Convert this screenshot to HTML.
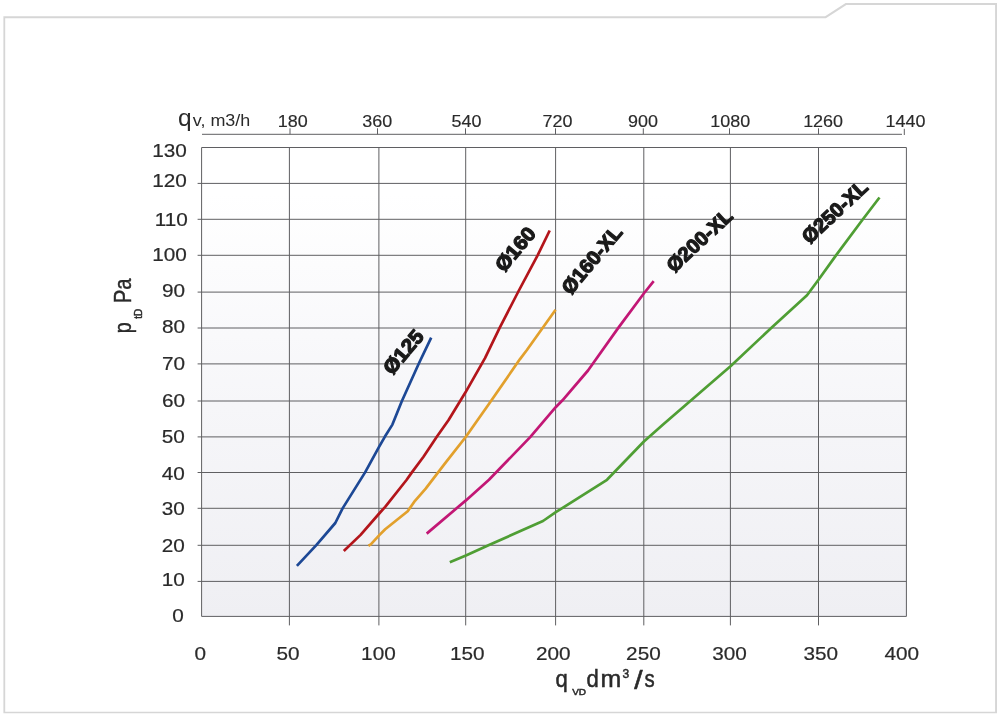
<!DOCTYPE html>
<html><head><meta charset="utf-8"><title>Chart</title>
<style>html,body{margin:0;padding:0;background:#fff;}body{width:1000px;height:717px;overflow:hidden;}svg{display:block;will-change:transform;}text{font-family:"Liberation Sans",sans-serif;}</style>
</head><body>
<svg width="1000" height="717" viewBox="0 0 1000 717">
<defs><linearGradient id="bg" x1="0" y1="0" x2="0" y2="1"><stop offset="0" stop-color="#ffffff"/><stop offset="0.1" stop-color="#ffffff"/><stop offset="0.55" stop-color="#f6f6f9"/><stop offset="1" stop-color="#efeff3"/></linearGradient></defs>
<rect width="1000" height="717" fill="#ffffff"/>
<path fill-rule="evenodd" fill="#d6d6d6" d="M3.4 16.3 L825.1 16.3 L845.6 3.1 L997 3.1 L997 713.3 L3.4 713.3 Z M5.2 18.3 L825.9 18.3 L846.4 5.0 L995.1 5.0 L995.1 711.8 L5.2 711.8 Z"/>
<rect x="201.6" y="147.5" width="704.8" height="468.9" fill="url(#bg)"/>
<g stroke="#5f5f62" stroke-width="1" fill="none">
<line x1="201.6" y1="147.5" x2="906.4" y2="147.5"/>
<line x1="197.6" y1="183.4" x2="906.4" y2="183.4"/>
<line x1="197.6" y1="219.3" x2="906.4" y2="219.3"/>
<line x1="197.6" y1="255.3" x2="906.4" y2="255.3"/>
<line x1="197.6" y1="292.1" x2="906.4" y2="292.1"/>
<line x1="197.6" y1="328.0" x2="906.4" y2="328.0"/>
<line x1="197.6" y1="363.9" x2="906.4" y2="363.9"/>
<line x1="197.6" y1="401.0" x2="906.4" y2="401.0"/>
<line x1="197.6" y1="436.9" x2="906.4" y2="436.9"/>
<line x1="197.6" y1="472.5" x2="906.4" y2="472.5"/>
<line x1="197.6" y1="508.3" x2="906.4" y2="508.3"/>
<line x1="197.6" y1="545.3" x2="906.4" y2="545.3"/>
<line x1="197.6" y1="581.4" x2="906.4" y2="581.4"/>
<line x1="201.6" y1="616.4" x2="906.4" y2="616.4"/>
<line x1="201.6" y1="147.5" x2="201.6" y2="616.4"/>
<line x1="289.4" y1="147.5" x2="289.4" y2="625.4"/>
<line x1="378.9" y1="147.5" x2="378.9" y2="625.4"/>
<line x1="465.7" y1="147.5" x2="465.7" y2="625.4"/>
<line x1="555.6" y1="147.5" x2="555.6" y2="625.4"/>
<line x1="643.8" y1="147.5" x2="643.8" y2="625.4"/>
<line x1="730.4" y1="147.5" x2="730.4" y2="625.4"/>
<line x1="818.5" y1="147.5" x2="818.5" y2="625.4"/>
<line x1="906.4" y1="147.5" x2="906.4" y2="616.4"/>
<line x1="202" y1="134.3" x2="902" y2="134.3"/>
<line x1="290" y1="128.3" x2="290" y2="134.3"/>
<line x1="377.5" y1="128.3" x2="377.5" y2="134.3"/>
<line x1="465.5" y1="128.3" x2="465.5" y2="134.3"/>
<line x1="555.5" y1="128.3" x2="555.5" y2="134.3"/>
<line x1="643.3" y1="128.3" x2="643.3" y2="134.3"/>
<line x1="729.5" y1="128.3" x2="729.5" y2="134.3"/>
<line x1="818.5" y1="128.3" x2="818.5" y2="134.3"/>
<line x1="904.3" y1="128.8" x2="904.3" y2="135"/>
</g>
<polyline points="296.9,565.8 316.3,545.1 335.3,523.0 342.6,508.4 365.1,472.4 378.9,447.2 384.8,436.8 392.4,424.6 401.8,401.2 418.6,364.0 431.2,337.6" fill="none" stroke="#1d4895" stroke-width="2.7" stroke-linejoin="round" stroke-linecap="butt"/>
<polyline points="343.8,551.0 360.6,534.9 379.2,513.5 385.2,506.8 406.5,480.0 411.7,472.6 423.5,456.8 436.8,436.8 448.6,420.0 465.5,392.3 485.0,358.1 499.5,328.2 518.1,292.0 537.6,255.3 549.7,230.5" fill="none" stroke="#b3151b" stroke-width="2.7" stroke-linejoin="round" stroke-linecap="butt"/>
<polyline points="368.4,545.7 370.8,544.4 379.1,535.4 385.2,529.3 407.7,511.2 415.0,500.8 425.7,488.6 445.0,463.4 465.7,437.0 488.9,404.0 520.0,359.1 526.9,350.0 555.6,309.8" fill="none" stroke="#e2a02c" stroke-width="2.7" stroke-linejoin="round" stroke-linecap="butt"/>
<polyline points="426.7,533.6 465.9,500.4 489.0,479.8 530.4,436.9 555.7,407.2 562.5,400.3 588.0,370.5 618.1,328.1 643.8,293.5 653.7,281.2" fill="none" stroke="#c21775" stroke-width="2.7" stroke-linejoin="round" stroke-linecap="butt"/>
<polyline points="449.8,562.3 465.9,555.6 489.0,545.0 543.0,521.0 555.8,512.2 607.0,479.8 643.9,441.5 662.8,424.8 730.5,366.2 771.2,328.0 807.0,295.3 818.5,279.8 836.0,255.4 862.7,219.5 879.5,197.5" fill="none" stroke="#4f9e34" stroke-width="2.7" stroke-linejoin="round" stroke-linecap="butt"/>
<text transform="translate(403.0,351.7) rotate(-50)" x="0" y="7.2" text-anchor="middle" font-size="20" font-weight="bold" fill="#1a1a1a" stroke="#1a1a1a" stroke-width="1.25" stroke-linejoin="round" textLength="51" lengthAdjust="spacingAndGlyphs">Ø125</text>
<text transform="translate(515.0,248.9) rotate(-50)" x="0" y="7.2" text-anchor="middle" font-size="20" font-weight="bold" fill="#1a1a1a" stroke="#1a1a1a" stroke-width="1.25" stroke-linejoin="round" textLength="51" lengthAdjust="spacingAndGlyphs">Ø160</text>
<text transform="translate(591.5,259.6) rotate(-50)" x="0" y="7.2" text-anchor="middle" font-size="20" font-weight="bold" fill="#1a1a1a" stroke="#1a1a1a" stroke-width="1.25" stroke-linejoin="round" textLength="82" lengthAdjust="spacingAndGlyphs">Ø160-XL</text>
<text transform="translate(699.2,240.2) rotate(-43)" x="0" y="7.2" text-anchor="middle" font-size="20" font-weight="bold" fill="#1a1a1a" stroke="#1a1a1a" stroke-width="1.25" stroke-linejoin="round" textLength="82" lengthAdjust="spacingAndGlyphs">Ø200-XL</text>
<text transform="translate(834.5,211.6) rotate(-43)" x="0" y="7.2" text-anchor="middle" font-size="20" font-weight="bold" fill="#1a1a1a" stroke="#1a1a1a" stroke-width="1.25" stroke-linejoin="round" textLength="82" lengthAdjust="spacingAndGlyphs">Ø250-XL</text>
<text transform="translate(186.9,156.6) scale(1.14,1)" text-anchor="end" font-size="18.2" fill="#2a2a2a" stroke="#2a2a2a" stroke-width="0.2">130</text>
<text transform="translate(186.9,187.4) scale(1.14,1)" text-anchor="end" font-size="18.2" fill="#2a2a2a" stroke="#2a2a2a" stroke-width="0.2">120</text>
<text transform="translate(187.8,225.8) scale(1.14,1)" text-anchor="end" font-size="18.2" fill="#2a2a2a" stroke="#2a2a2a" stroke-width="0.2">110</text>
<text transform="translate(186.9,261.0) scale(1.14,1)" text-anchor="end" font-size="18.2" fill="#2a2a2a" stroke="#2a2a2a" stroke-width="0.2">100</text>
<text transform="translate(185.0,296.8) scale(1.14,1)" text-anchor="end" font-size="18.2" fill="#2a2a2a" stroke="#2a2a2a" stroke-width="0.2">90</text>
<text transform="translate(185.0,333.3) scale(1.14,1)" text-anchor="end" font-size="18.2" fill="#2a2a2a" stroke="#2a2a2a" stroke-width="0.2">80</text>
<text transform="translate(185.0,370.2) scale(1.14,1)" text-anchor="end" font-size="18.2" fill="#2a2a2a" stroke="#2a2a2a" stroke-width="0.2">70</text>
<text transform="translate(185.0,406.5) scale(1.14,1)" text-anchor="end" font-size="18.2" fill="#2a2a2a" stroke="#2a2a2a" stroke-width="0.2">60</text>
<text transform="translate(184.9,442.7) scale(1.14,1)" text-anchor="end" font-size="18.2" fill="#2a2a2a" stroke="#2a2a2a" stroke-width="0.2">50</text>
<text transform="translate(184.9,480.3) scale(1.14,1)" text-anchor="end" font-size="18.2" fill="#2a2a2a" stroke="#2a2a2a" stroke-width="0.2">40</text>
<text transform="translate(184.9,514.5) scale(1.14,1)" text-anchor="end" font-size="18.2" fill="#2a2a2a" stroke="#2a2a2a" stroke-width="0.2">30</text>
<text transform="translate(184.9,551.6) scale(1.14,1)" text-anchor="end" font-size="18.2" fill="#2a2a2a" stroke="#2a2a2a" stroke-width="0.2">20</text>
<text transform="translate(184.9,586.1) scale(1.14,1)" text-anchor="end" font-size="18.2" fill="#2a2a2a" stroke="#2a2a2a" stroke-width="0.2">10</text>
<text transform="translate(183.7,621.7) scale(1.14,1)" text-anchor="end" font-size="18.2" fill="#2a2a2a" stroke="#2a2a2a" stroke-width="0.2">0</text>
<text transform="translate(200.2,659.6) scale(1.14,1)" text-anchor="middle" font-size="18.2" fill="#2a2a2a" stroke="#2a2a2a" stroke-width="0.2">0</text>
<text transform="translate(288.0,659.6) scale(1.14,1)" text-anchor="middle" font-size="18.2" fill="#2a2a2a" stroke="#2a2a2a" stroke-width="0.2">50</text>
<text transform="translate(378.4,659.6) scale(1.14,1)" text-anchor="middle" font-size="18.2" fill="#2a2a2a" stroke="#2a2a2a" stroke-width="0.2">100</text>
<text transform="translate(467.2,659.6) scale(1.14,1)" text-anchor="middle" font-size="18.2" fill="#2a2a2a" stroke="#2a2a2a" stroke-width="0.2">150</text>
<text transform="translate(553.3,659.6) scale(1.14,1)" text-anchor="middle" font-size="18.2" fill="#2a2a2a" stroke="#2a2a2a" stroke-width="0.2">200</text>
<text transform="translate(643.4,659.6) scale(1.14,1)" text-anchor="middle" font-size="18.2" fill="#2a2a2a" stroke="#2a2a2a" stroke-width="0.2">250</text>
<text transform="translate(729.6,659.6) scale(1.14,1)" text-anchor="middle" font-size="18.2" fill="#2a2a2a" stroke="#2a2a2a" stroke-width="0.2">300</text>
<text transform="translate(820.7,659.6) scale(1.14,1)" text-anchor="middle" font-size="18.2" fill="#2a2a2a" stroke="#2a2a2a" stroke-width="0.2">350</text>
<text transform="translate(901.8,659.6) scale(1.14,1)" text-anchor="middle" font-size="18.2" fill="#2a2a2a" stroke="#2a2a2a" stroke-width="0.2">400</text>
<text transform="translate(292.8,126.5) scale(1.13,1)" text-anchor="middle" font-size="15.9" fill="#2a2a2a" stroke="#2a2a2a" stroke-width="0.15">180</text>
<text transform="translate(377.2,126.5) scale(1.13,1)" text-anchor="middle" font-size="15.9" fill="#2a2a2a" stroke="#2a2a2a" stroke-width="0.15">360</text>
<text transform="translate(466.4,126.5) scale(1.13,1)" text-anchor="middle" font-size="15.9" fill="#2a2a2a" stroke="#2a2a2a" stroke-width="0.15">540</text>
<text transform="translate(557.5,126.5) scale(1.13,1)" text-anchor="middle" font-size="15.9" fill="#2a2a2a" stroke="#2a2a2a" stroke-width="0.15">720</text>
<text transform="translate(642.9,126.5) scale(1.13,1)" text-anchor="middle" font-size="15.9" fill="#2a2a2a" stroke="#2a2a2a" stroke-width="0.15">900</text>
<text transform="translate(730.2,126.5) scale(1.13,1)" text-anchor="middle" font-size="15.9" fill="#2a2a2a" stroke="#2a2a2a" stroke-width="0.15">1080</text>
<text transform="translate(823.1,126.5) scale(1.13,1)" text-anchor="middle" font-size="15.9" fill="#2a2a2a" stroke="#2a2a2a" stroke-width="0.15">1260</text>
<text transform="translate(905.4,126.5) scale(1.13,1)" text-anchor="middle" font-size="15.9" fill="#2a2a2a" stroke="#2a2a2a" stroke-width="0.15">1440</text>
<text x="177.9" y="126.4" font-size="24.5" fill="#2a2a2a">q</text>
<text transform="translate(192.8,126.4) scale(1.15,1)" font-size="15.6" fill="#2a2a2a">v, m3/h</text>
<g transform="translate(131.2,333.3) rotate(-90)" fill="#2a2a2a" stroke="#2a2a2a" stroke-width="0.45">
<text transform="scale(0.86,1)" x="0" y="0" font-size="23">p</text>
<text x="14.6" y="10.6" font-size="10">tD</text>
<text transform="translate(30.0,0) scale(0.88,1)" x="0" y="0" font-size="23">Pa</text>
</g>
<g fill="#2a2a2a" stroke="#2a2a2a" stroke-width="0.5">
<text transform="translate(555.4,686.6) scale(0.92,1)" font-size="24">q</text>
<text transform="translate(572.2,694.6) scale(1.22,1)" font-size="8.2" stroke="#2a2a2a" stroke-width="0.45">VD</text>
<text transform="translate(586.6,686.6) scale(0.92,1)" font-size="24">d</text>
<text transform="translate(600.6,686.6) scale(1.04,1)" font-size="24">m</text>
<text x="622.4" y="677.5" font-size="12">3</text>
<text transform="translate(634.2,688.8) scale(1.3,1.12)" font-size="23">/</text>
<text transform="translate(644.6,686.6) scale(0.85,1)" font-size="24">s</text>
</g>
</svg>
</body></html>
